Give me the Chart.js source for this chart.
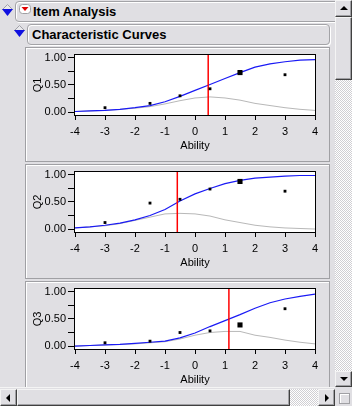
<!DOCTYPE html>
<html><head><meta charset="utf-8">
<script src="https://cdn.jsdelivr.net/npm/chart.js@4/dist/chart.umd.min.js"></script>
<style>
html,body{margin:0;padding:0;}
body{width:352px;height:406px;overflow:hidden;background:#e0dfe3;position:relative;font-family:"Liberation Sans",Arial,sans-serif;}
.hdr{position:absolute;border:1px solid #a3a3a7;border-radius:4px;box-shadow:inset 1px 1px 0 #fff,1px 1px 0 #fff;box-sizing:border-box;}
.htxt{position:absolute;font-weight:bold;font-size:13px;line-height:13px;color:#000;white-space:nowrap;}
.panel{position:absolute;left:25px;width:305px;height:115px;border:1px solid #a0a0a4;box-shadow:inset 1px 1px 0 #fff;box-sizing:border-box;}
canvas{position:absolute;left:26px;}
.btn{position:absolute;background:#e0dfe3;box-sizing:border-box;border:1px solid;border-color:#f4f4f4 #404040 #404040 #f4f4f4;box-shadow:inset -1px -1px 0 #a0a0a4;z-index:5;}
.hatch{position:absolute;background-color:#fff;background-image:repeating-conic-gradient(#d0cfd3 0 25%,#fff 0 50%);background-size:2px 2px;z-index:5;}
.tri{position:absolute;width:0;height:0;}
.sb{position:absolute;background:#e0dfe3;z-index:4;}
</style></head><body>

<svg style="position:absolute;left:2px;top:4px" width="12" height="14"><polygon points="5.5,0.5 10.5,5.5 0.5,5.5" fill="#e8e8ec" stroke="#a0a0a8"/><polygon points="0,5 11,5 5.5,12" fill="#1010e0"/></svg>
<div class="hdr" style="left:15px;top:1px;width:340px;height:21px;"></div>
<svg style="position:absolute;left:19px;top:4px" width="12" height="10"><rect x="0.5" y="0.5" width="11" height="9" rx="3" fill="#fff" stroke="#a0a0a4"/><polygon points="2.5,3 9.5,3 6,7" fill="#e00000"/></svg>
<div class="htxt" style="left:33px;top:5px;">Item Analysis</div>

<svg style="position:absolute;left:14px;top:25px" width="12" height="14"><polygon points="5.5,0.5 10.5,5.5 0.5,5.5" fill="#e8e8ec" stroke="#a0a0a8"/><polygon points="0,5 11,5 5.5,12" fill="#1010e0"/></svg>
<div class="hdr" style="left:27px;top:24px;width:303px;height:21px;"></div>
<div class="htxt" style="left:32px;top:28px;">Characteristic Curves</div>

<div class="panel" style="top:47px;"></div>
<div class="panel" style="top:164px;"></div>
<div class="panel" style="top:281px;"></div>
<canvas id="c1" width="303" height="113" style="top:48px"></canvas>
<canvas id="c2" width="303" height="113" style="top:165px"></canvas>
<canvas id="c3" width="303" height="113" style="top:282px"></canvas>

<!-- vertical scrollbar -->
<div class="sb" style="left:335px;top:0;width:17px;height:406px;"></div>
<div class="btn" style="left:335px;top:0;width:17px;height:17px;"><div class="tri" style="left:4px;top:5px;border-left:4px solid transparent;border-right:4px solid transparent;border-bottom:4px solid #000;"></div></div>
<div class="btn" style="left:335px;top:17px;width:17px;height:63px;"></div>
<div class="hatch" style="left:335px;top:80px;width:17px;height:291px;"></div>
<div class="btn" style="left:335px;top:371px;width:17px;height:16px;"><div class="tri" style="left:4px;top:5px;border-left:4px solid transparent;border-right:4px solid transparent;border-top:4px solid #000;"></div></div>
<!-- horizontal scrollbar -->
<div class="sb" style="left:0;top:387px;width:352px;height:19px;border-top:1px solid #f4f4f4;box-sizing:border-box;"></div>
<div class="btn" style="left:0;top:389px;width:17px;height:17px;"><div class="tri" style="left:5px;top:4px;border-top:4px solid transparent;border-bottom:4px solid transparent;border-right:4px solid #000;"></div></div>
<div class="btn" style="left:17px;top:389px;width:273px;height:17px;"></div>
<div class="hatch" style="left:290px;top:389px;width:28px;height:17px;"></div>
<div class="btn" style="left:318px;top:389px;width:17px;height:17px;"><div class="tri" style="left:6px;top:4px;border-top:4px solid transparent;border-bottom:4px solid transparent;border-left:4px solid #000;"></div></div>
<div class="sb" style="left:335px;top:387px;width:17px;height:19px;z-index:6;"><div style="position:absolute;left:4px;top:6px;width:11px;height:11px;border:1px solid #a0a0a4;box-shadow:inset 1px 1px 0 #fff;box-sizing:border-box;"></div></div>

<script>
// ---- data ----
const abilityTicks = [-4, -3, -2, -1, 0, 1, 2, 3, 4];
const probTicks = [0, 0.25, 0.5, 0.75, 1];
const probTickLabels = ['0.00', '', '0.50', '', '1.00'];
const itemNames = ['Q1', 'Q2', 'Q3'];

const curveAbility = [-4, -3.5, -3, -2.5, -2, -1.5, -1, -0.5, 0, 0.5, 1, 1.5, 2, 2.5, 3, 3.5, 4];
const q1Curve = [0.01, 0.02, 0.03, 0.05, 0.08, 0.12, 0.19, 0.29, 0.40, 0.51, 0.62, 0.73, 0.83, 0.89, 0.93, 0.96, 0.97];
const q1Info  = [0.01, 0.02, 0.03, 0.05, 0.07, 0.10, 0.15, 0.21, 0.26, 0.28, 0.26, 0.22, 0.16, 0.12, 0.08, 0.05, 0.03];
const q2Curve = [0.02, 0.04, 0.07, 0.11, 0.17, 0.25, 0.36, 0.52, 0.65, 0.75, 0.84, 0.90, 0.94, 0.96, 0.98, 0.99, 0.99];
const q2Info  = [0.02, 0.04, 0.06, 0.10, 0.16, 0.22, 0.28, 0.29, 0.28, 0.24, 0.17, 0.12, 0.07, 0.04, 0.02, 0.01, 0.00];
const q3Curve = [0.00, 0.01, 0.02, 0.03, 0.05, 0.07, 0.09, 0.15, 0.24, 0.36, 0.47, 0.58, 0.70, 0.80, 0.87, 0.92, 0.96];
const q3Info  = [0.00, 0.01, 0.02, 0.03, 0.04, 0.06, 0.08, 0.13, 0.20, 0.25, 0.27, 0.27, 0.20, 0.16, 0.11, 0.07, 0.04];

const pointAbility = [-3, -1.5, -0.5, 0.5, 1.5, 3];
const q1Props = [0.08, 0.16, 0.30, 0.43, 0.73, 0.69];
const q2Props = [0.12, 0.48, 0.55, 0.74, 0.88, 0.70];
const q3Props = [0.06, 0.09, 0.25, 0.28, 0.39, 0.69];

const difficulty = [0.44, -0.59, 1.13];

const probMin = -0.055, probMax = 1.055;

// ---- drawing ----
const boxPlugin = {
  id: 'box',
  beforeDatasetsDraw(chart) {
    const {ctx, chartArea: a} = chart;
    ctx.save();
    ctx.fillStyle = '#fff';
    ctx.fillRect(a.left, a.top, a.right - a.left, a.bottom - a.top);
    ctx.restore();
  },
  afterDraw(chart) {
    const {ctx, chartArea: a} = chart;
    ctx.save();
    ctx.strokeStyle = '#000';
    ctx.lineWidth = 1;
    ctx.strokeRect(Math.round(a.left) - 0.5, Math.round(a.top) - 0.5, Math.round(a.right - a.left) + 1, Math.round(a.bottom - a.top) + 1);
    ctx.restore();
  }
};

const tickFont = {family: '"Liberation Sans", Arial, sans-serif', size: 11};

function makeChart(id, name, curve, info, props, diff) {
  const pts = (xs, ys) => xs.map((x, i) => ({x: x, y: ys[i]}));
  new Chart(document.getElementById(id), {
    type: 'scatter',
    data: {
      datasets: [
        {data: pts(pointAbility, props), showLine: false, pointStyle: 'rect',
         pointRadius: c => c.dataIndex === 4 ? 3.6 : 2.0, pointHoverRadius: 0,
         backgroundColor: '#000', borderWidth: 0},
        {data: [{x: diff, y: probMin}, {x: diff, y: probMax}], showLine: true,
         borderColor: '#ff0000', borderWidth: 1.5, pointRadius: 0},
        {data: pts(curveAbility, curve), showLine: true, borderColor: '#1a1af5',
         borderWidth: 1.2, pointRadius: 0, tension: 0},
        {data: pts(curveAbility, info), showLine: true, borderColor: '#b8b8b8',
         borderWidth: 1, pointRadius: 0, tension: 0}
      ]
    },
    options: {
      responsive: false, animation: false, events: [],
      layout: {padding: {top: 7, right: 14, bottom: 0, left: 0}},
      plugins: {legend: {display: false}, tooltip: {enabled: false}},
      scales: {
        x: {
          type: 'linear', min: -4, max: 4,
          afterBuildTicks: s => { s.ticks = abilityTicks.map(v => ({value: v})); },
          ticks: {font: tickFont, color: '#000', padding: 5, maxRotation: 0, autoSkip: false},
          grid: {drawOnChartArea: false, drawTicks: true, tickLength: 5, color: '#000'},
          border: {color: '#000', width: 1},
          title: {display: true, text: 'Ability', font: tickFont, color: '#000', padding: {top: 0, bottom: 8}},
          afterFit: s => { s.height = 46; s.paddingLeft = 0; s.paddingRight = 0; }
        },
        y: {
          type: 'linear', min: probMin, max: probMax,
          afterBuildTicks: s => { s.ticks = probTicks.map(v => ({value: v})); },
          ticks: {font: tickFont, color: '#000', padding: 2, autoSkip: false,
                  callback: (v, i) => probTickLabels[i]},
          grid: {drawOnChartArea: false, drawTicks: true, tickLength: 7, color: '#000'},
          border: {color: '#000', width: 1},
          title: {display: true, text: name, font: tickFont, color: '#000', padding: {top: 5.4, bottom: 0}},
          afterFit: s => { s.width = 49; s.paddingTop = 0; s.paddingBottom = 0; }
        }
      }
    },
    plugins: [boxPlugin]
  });
}

makeChart('c1', itemNames[0], q1Curve, q1Info, q1Props, difficulty[0]);
makeChart('c2', itemNames[1], q2Curve, q2Info, q2Props, difficulty[1]);
makeChart('c3', itemNames[2], q3Curve, q3Info, q3Props, difficulty[2]);
</script>
</body></html>
